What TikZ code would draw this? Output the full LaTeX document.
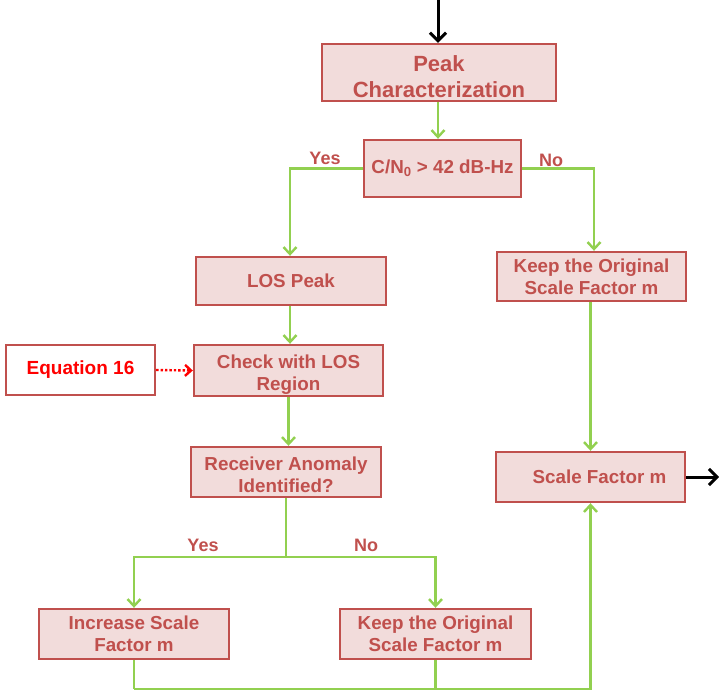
\documentclass[tikz,border=0pt]{standalone}
\usepackage{fontspec}
\setmainfont{Liberation Sans}
\usetikzlibrary{arrows.meta}
\definecolor{boxfill}{RGB}{242,220,219}
\definecolor{boxline}{RGB}{192,80,77}
\definecolor{boxtext}{RGB}{192,80,77}
\definecolor{flowgreen}{RGB}{146,208,80}
\definecolor{eqred}{RGB}{255,0,0}
\tikzset{
  procbox/.style={draw=boxline, line width=2.4pt, fill=boxfill, text=boxtext,
    font=\bfseries\fontsize{18.8}{22}\selectfont, align=center, inner sep=0pt,
    minimum width=190pt, minimum height=50pt},
  eqbox/.style={draw=boxline, line width=2.4pt, fill=white, text=eqred,
    font=\bfseries\fontsize{19}{22}\selectfont, align=center, inner sep=0pt,
    minimum width=149pt, minimum height=50pt},
  flow/.style={draw=flowgreen, line width=2.4pt, -{Straight Barb[length=7pt,width=13pt,line width=2.4pt]}},
  flowline/.style={draw=flowgreen, line width=2.4pt},
  blackarrow/.style={draw=black, line width=3pt, -{Straight Barb[length=8pt,width=16pt,line width=3pt]}},
  dotarrow/.style={draw=eqred, line width=2.4pt, dotted, -{Straight Barb[length=6pt,width=11pt,line width=2.4pt]}},
  lbl/.style={text=boxtext, font=\bfseries\fontsize{18}{21}\selectfont, inner sep=0pt}
}
\begin{document}
\begin{tikzpicture}[x=1pt,y=-1pt]
\useasboundingbox (0,0) rectangle (719,694);
% nodes
\node[procbox, minimum width=234pt, minimum height=57pt, font=\bfseries\fontsize{22}{26}\selectfont] (pc) at (439,72.5) {\raisebox{-4pt}[\height][\depth]{\parbox{230pt}{\centering Peak\\Characterization}}};
\node[procbox, minimum width=157pt, minimum height=57pt] (cn) at (442.5,168.5) {C/N\textsubscript{0} > 42 dB-Hz};
\node[procbox, minimum height=48pt] (los) at (291,281) {LOS Peak};
\node[procbox, minimum width=189pt, minimum height=49pt] (keep1) at (591.5,276.5) {Keep the Original\\Scale Factor m};
\node[eqbox] (eq) at (80.5,370) {Equation 16};
\node[procbox, minimum width=189pt, minimum height=51pt] (check) at (288.5,370.5) {\raisebox{-4pt}[\height][\depth]{\parbox{185pt}{\centering Check with LOS\\Region}}};
\node[procbox, minimum height=50pt] (ra) at (286,472) {\raisebox{-3pt}[\height][\depth]{\parbox{185pt}{\centering Receiver Anomaly\\Identified?}}};
\node[procbox, minimum width=189pt, minimum height=50pt] (sf) at (590.5,477) {\hspace*{18pt}Scale Factor m};
\node[procbox, minimum height=50pt] (inc) at (134,634) {Increase Scale\\Factor m};
\node[procbox, minimum width=191pt, minimum height=50pt] (keep2) at (435.5,634) {Keep the Original\\Scale Factor m};
% free ends and guide coordinates
\coordinate (topin) at (438,0);
\coordinate (outr) at (719,477);
\coordinate (split) at (286,557);
\coordinate (bottom) at (134,689);
\coordinate (xl) at (290,0);
\coordinate (xr) at (594,0);
% labels
\node[lbl] (yes1) at (325,158) {Yes};
\node[lbl] (no1) at (551,160) {No};
\node[lbl] (yes2) at (203,545) {Yes};
\node[lbl] (no2) at (366,545) {No};
% connectors
\draw[blackarrow] (topin) -- (topin |- pc.north);
\draw[flow] (pc.south -| topin) -- (cn.north -| topin);
\draw[flow] (cn.west) -| (los.north -| xl);
\draw[flow] (cn.east) -| (keep1.north -| xr);
\draw[flow] (los.south -| xl) -- (check.north -| xl);
\draw[flow] (check.south) -- (ra.north -| check.south);
\draw[flowline] (ra.south) -- (split);
\draw[flow] (split) -| (inc.north);
\draw[flow] (split) -| (keep2.north);
\draw[flowline] (inc.south) -- (bottom);
\draw[flow] (bottom) -| (sf.south);
\draw[flowline] (keep2.south) -- (keep2.south |- bottom);
\draw[flow] (keep1.south -| sf.south) -- (sf.north);
\draw[blackarrow] (sf.east) -- (outr);
\draw[dotarrow] (eq.east) -- (check.west);
\end{tikzpicture}
\end{document}
